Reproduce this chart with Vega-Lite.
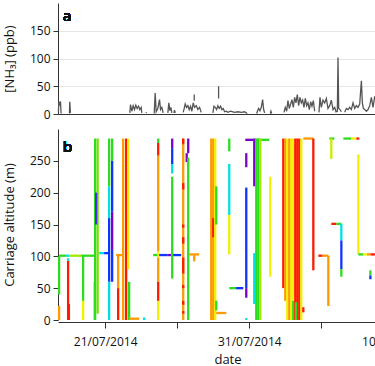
{
  "$schema": "https://vega.github.io/schema/vega-lite/v6.json",
  "padding": {"left": 3, "top": 3, "right": 0, "bottom": 0},
  "spacing": 9,
  "config": {
    "font": "Open Sans",
    "view": {"stroke": null},
    "axis": {"domainColor": "#333", "tickColor": "#333", "labelColor": "#111", "labelFontSize": 12, "titleFontSize": 13, "titleFontWeight": "normal", "titleColor": "#111", "grid": false}
  },
  "vconcat": [
    {
      "width": 339,
      "height": 111,
      "data": {"values": [
        {"t": "2014-07-17T18:10", "nh3": 3, "seg": 1}, {"t": "2014-07-17T18:50", "nh3": 22, "seg": 1}, {"t": "2014-07-17T20:25", "nh3": 15, "seg": 1}, {"t": "2014-07-17T21:35", "nh3": 23, "seg": 1}, {"t": "2014-07-17T22:40", "nh3": 1, "seg": 1},
        {"t": "2014-07-18T12:35", "nh3": 1, "seg": 2}, {"t": "2014-07-18T13:05", "nh3": 22, "seg": 2}, {"t": "2014-07-18T14:15", "nh3": 2, "seg": 2},
        {"t": "2014-07-22T17:05", "nh3": 2, "seg": 3}, {"t": "2014-07-22T18:15", "nh3": 17, "seg": 3}, {"t": "2014-07-22T20:25", "nh3": 5, "seg": 3}, {"t": "2014-07-22T22:40", "nh3": 15, "seg": 3}, {"t": "2014-07-23T00:55", "nh3": 8, "seg": 3}, {"t": "2014-07-23T03:05", "nh3": 16, "seg": 3}, {"t": "2014-07-23T05:20", "nh3": 10, "seg": 3}, {"t": "2014-07-23T07:35", "nh3": 14, "seg": 3}, {"t": "2014-07-23T09:45", "nh3": 8, "seg": 3}, {"t": "2014-07-23T12:00", "nh3": 12, "seg": 3}, {"t": "2014-07-23T13:05", "nh3": 2, "seg": 3},
        {"t": "2014-07-23T19:45", "nh3": 2, "seg": 4}, {"t": "2014-07-23T20:55", "nh3": 3, "seg": 4},
        {"t": "2014-07-24T09:40", "nh3": 1, "seg": 5}, {"t": "2014-07-24T11:20", "nh3": 38, "seg": 5}, {"t": "2014-07-24T13:00", "nh3": 4, "seg": 5}, {"t": "2014-07-24T15:45", "nh3": 10, "seg": 5}, {"t": "2014-07-24T18:35", "nh3": 26, "seg": 5}, {"t": "2014-07-24T20:15", "nh3": 8, "seg": 5}, {"t": "2014-07-24T22:25", "nh3": 12, "seg": 5}, {"t": "2014-07-25T00:40", "nh3": 2, "seg": 5},
        {"t": "2014-07-25T08:25", "nh3": 2, "seg": 6}, {"t": "2014-07-25T10:05", "nh3": 20, "seg": 6}, {"t": "2014-07-25T11:45", "nh3": 6, "seg": 6}, {"t": "2014-07-25T13:25", "nh3": 12, "seg": 6}, {"t": "2014-07-25T15:05", "nh3": 2, "seg": 6},
        {"t": "2014-07-25T18:25", "nh3": 2, "seg": 7}, {"t": "2014-07-25T19:35", "nh3": 7, "seg": 7}, {"t": "2014-07-25T20:40", "nh3": 2, "seg": 7},
        {"t": "2014-07-26T10:00", "nh3": 3, "seg": 8}, {"t": "2014-07-26T11:40", "nh3": 10, "seg": 8}, {"t": "2014-07-26T13:20", "nh3": 18, "seg": 8}, {"t": "2014-07-26T15:35", "nh3": 12, "seg": 8}, {"t": "2014-07-26T17:45", "nh3": 15, "seg": 8}, {"t": "2014-07-26T20:00", "nh3": 8, "seg": 8}, {"t": "2014-07-26T22:15", "nh3": 14, "seg": 8}, {"t": "2014-07-27T00:25", "nh3": 5, "seg": 8}, {"t": "2014-07-27T02:40", "nh3": 20, "seg": 8}, {"t": "2014-07-27T04:55", "nh3": 12, "seg": 8}, {"t": "2014-07-27T07:40", "nh3": 15, "seg": 8}, {"t": "2014-07-27T10:25", "nh3": 8, "seg": 8}, {"t": "2014-07-27T13:15", "nh3": 12, "seg": 8}, {"t": "2014-07-27T16:00", "nh3": 3, "seg": 8},
        {"t": "2014-07-27T04:20", "nh3": 24, "seg": 9}, {"t": "2014-07-27T04:20", "nh3": 35, "seg": 9},
        {"t": "2014-07-28T11:25", "nh3": 2, "seg": 10}, {"t": "2014-07-28T13:05", "nh3": 14, "seg": 10}, {"t": "2014-07-28T15:20", "nh3": 12, "seg": 10}, {"t": "2014-07-28T17:35", "nh3": 8, "seg": 10}, {"t": "2014-07-28T19:45", "nh3": 15, "seg": 10}, {"t": "2014-07-28T22:00", "nh3": 10, "seg": 10}, {"t": "2014-07-29T00:15", "nh3": 14, "seg": 10}, {"t": "2014-07-29T02:25", "nh3": 8, "seg": 10}, {"t": "2014-07-29T04:40", "nh3": 10, "seg": 10}, {"t": "2014-07-29T06:55", "nh3": 4, "seg": 10}, {"t": "2014-07-29T09:40", "nh3": 5, "seg": 10}, {"t": "2014-07-29T12:25", "nh3": 3, "seg": 10}, {"t": "2014-07-29T16:55", "nh3": 5, "seg": 10}, {"t": "2014-07-29T20:45", "nh3": 4, "seg": 10}, {"t": "2014-07-29T23:35", "nh3": 3, "seg": 10}, {"t": "2014-07-30T05:05", "nh3": 4, "seg": 10}, {"t": "2014-07-30T10:40", "nh3": 3, "seg": 10}, {"t": "2014-07-30T16:15", "nh3": 4, "seg": 10}, {"t": "2014-07-30T20:40", "nh3": 1, "seg": 10},
        {"t": "2014-07-28T20:55", "nh3": 28, "seg": 11}, {"t": "2014-07-28T20:55", "nh3": 50, "seg": 11},
        {"t": "2014-07-31T12:15", "nh3": 1, "seg": 12}, {"t": "2014-07-31T13:55", "nh3": 6, "seg": 12}, {"t": "2014-07-31T15:35", "nh3": 10, "seg": 12}, {"t": "2014-07-31T17:45", "nh3": 6, "seg": 12}, {"t": "2014-07-31T20:00", "nh3": 12, "seg": 12}, {"t": "2014-07-31T22:15", "nh3": 26, "seg": 12}, {"t": "2014-07-31T23:55", "nh3": 8, "seg": 12}, {"t": "2014-08-01T01:35", "nh3": 2, "seg": 12},
        {"t": "2014-08-01T11:00", "nh3": 1, "seg": 13}, {"t": "2014-08-01T12:05", "nh3": 5, "seg": 13}, {"t": "2014-08-01T13:15", "nh3": 1, "seg": 13},
        {"t": "2014-08-02T09:45", "nh3": 3, "seg": 14}, {"t": "2014-08-02T12:00", "nh3": 12, "seg": 14}, {"t": "2014-08-02T14:15", "nh3": 5, "seg": 14}, {"t": "2014-08-02T16:25", "nh3": 24, "seg": 14}, {"t": "2014-08-02T18:40", "nh3": 10, "seg": 14}, {"t": "2014-08-02T20:55", "nh3": 18, "seg": 14}, {"t": "2014-08-02T23:05", "nh3": 26, "seg": 14}, {"t": "2014-08-03T01:20", "nh3": 12, "seg": 14}, {"t": "2014-08-03T03:35", "nh3": 30, "seg": 14}, {"t": "2014-08-03T05:45", "nh3": 20, "seg": 14}, {"t": "2014-08-03T08:00", "nh3": 35, "seg": 14}, {"t": "2014-08-03T10:15", "nh3": 15, "seg": 14}, {"t": "2014-08-03T12:25", "nh3": 30, "seg": 14}, {"t": "2014-08-03T14:40", "nh3": 20, "seg": 14}, {"t": "2014-08-03T16:55", "nh3": 25, "seg": 14}, {"t": "2014-08-03T19:05", "nh3": 12, "seg": 14}, {"t": "2014-08-03T21:20", "nh3": 28, "seg": 14}, {"t": "2014-08-03T23:35", "nh3": 15, "seg": 14}, {"t": "2014-08-04T01:45", "nh3": 20, "seg": 14}, {"t": "2014-08-04T04:00", "nh3": 8, "seg": 14}, {"t": "2014-08-04T06:15", "nh3": 22, "seg": 14}, {"t": "2014-08-04T08:25", "nh3": 14, "seg": 14}, {"t": "2014-08-04T10:40", "nh3": 24, "seg": 14}, {"t": "2014-08-04T12:55", "nh3": 5, "seg": 14},
        {"t": "2014-08-04T20:05", "nh3": 3, "seg": 15}, {"t": "2014-08-04T21:45", "nh3": 30, "seg": 15}, {"t": "2014-08-05T00:00", "nh3": 12, "seg": 15}, {"t": "2014-08-05T02:45", "nh3": 25, "seg": 15}, {"t": "2014-08-05T05:35", "nh3": 20, "seg": 15}, {"t": "2014-08-05T08:20", "nh3": 28, "seg": 15}, {"t": "2014-08-05T11:05", "nh3": 10, "seg": 15}, {"t": "2014-08-05T13:55", "nh3": 15, "seg": 15}, {"t": "2014-08-05T16:40", "nh3": 25, "seg": 15}, {"t": "2014-08-05T19:25", "nh3": 8, "seg": 15}, {"t": "2014-08-05T22:15", "nh3": 12, "seg": 15}, {"t": "2014-08-06T00:25", "nh3": 4, "seg": 15}, {"t": "2014-08-06T02:40", "nh3": 5, "seg": 15}, {"t": "2014-08-06T03:45", "nh3": 102, "seg": 15}, {"t": "2014-08-06T04:55", "nh3": 10, "seg": 15}, {"t": "2014-08-06T07:05", "nh3": 8, "seg": 15}, {"t": "2014-08-06T09:20", "nh3": 4, "seg": 15},
        {"t": "2014-08-06T14:55", "nh3": 3, "seg": 16}, {"t": "2014-08-06T17:40", "nh3": 10, "seg": 16}, {"t": "2014-08-06T20:25", "nh3": 8, "seg": 16}, {"t": "2014-08-06T23:15", "nh3": 12, "seg": 16}, {"t": "2014-08-07T02:00", "nh3": 8, "seg": 16}, {"t": "2014-08-07T04:45", "nh3": 20, "seg": 16}, {"t": "2014-08-07T07:35", "nh3": 10, "seg": 16}, {"t": "2014-08-07T10:20", "nh3": 15, "seg": 16}, {"t": "2014-08-07T13:05", "nh3": 12, "seg": 16}, {"t": "2014-08-07T15:55", "nh3": 18, "seg": 16}, {"t": "2014-08-07T18:40", "nh3": 60, "seg": 16}, {"t": "2014-08-07T20:20", "nh3": 20, "seg": 16}, {"t": "2014-08-07T22:00", "nh3": 10, "seg": 16}, {"t": "2014-08-08T00:15", "nh3": 8, "seg": 16}, {"t": "2014-08-08T03:00", "nh3": 5, "seg": 16}, {"t": "2014-08-08T05:45", "nh3": 8, "seg": 16}, {"t": "2014-08-08T08:35", "nh3": 15, "seg": 16}, {"t": "2014-08-08T11:20", "nh3": 30, "seg": 16}, {"t": "2014-08-08T14:05", "nh3": 12, "seg": 16}, {"t": "2014-08-08T16:55", "nh3": 32, "seg": 16}, {"t": "2014-08-08T19:40", "nh3": 20, "seg": 16}
      ]},
      "layer": [
        {
          "mark": {"type": "line", "color": "#555555", "strokeWidth": 1.3},
          "encoding": {
            "x": {"field": "t", "type": "temporal",
              "scale": {"domain": [{"year": 2014, "month": 7, "date": 17, "hours": 17, "minutes": 30}, {"year": 2014, "month": 8, "date": 10, "hours": 6}]},
              "axis": {"title": null, "labels": false, "ticks": false, "domain": true, "grid": false}},
            "y": {"field": "nh3", "type": "quantitative", "scale": {"domain": [0, 190]},
              "axis": {"title": "[NH₃] (ppb)", "values": [0, 50, 100, 150], "tickCount": 20, "grid": true, "gridColor": "#e6e6e6", "tickSize": 5, "labelPadding": 3, "labelOverlap": false, "minExtent": 38, "maxExtent": 38, "titlePadding": 4}},
            "detail": {"field": "seg", "type": "nominal"}
          }
        },
        {
          "mark": {"type": "text", "text": "a", "fontSize": 15, "fontWeight": "normal", "align": "left", "baseline": "middle", "color": "#111"},
          "encoding": {
            "x": {"datum": {"year": 2014, "month": 7, "date": 18, "hours": 2}, "type": "temporal"},
            "y": {"datum": 177, "type": "quantitative"}
          }
        }
      ]
    },
    {
      "width": 339,
      "height": 191,
      "data": {"values": [
        {"t": "2014-07-17T19:20", "t2": "2014-07-17T19:20", "alt": 0, "alt2": 22, "nh3": 20},
        {"t": "2014-07-17T19:20", "t2": "2014-07-17T19:20", "alt": 40, "alt2": 100, "nh3": 12},
        {"t": "2014-07-17T19:20", "t2": "2014-07-18T07:00", "alt": 101, "alt2": 101, "nh3": 12},
        {"t": "2014-07-18T07:00", "t2": "2014-07-18T12:00", "alt": 101, "alt2": 101, "nh3": 8},
        {"t": "2014-07-18T12:00", "t2": "2014-07-19T08:00", "alt": 101, "alt2": 101, "nh3": 14},
        {"t": "2014-07-19T08:00", "t2": "2014-07-20T05:40", "alt": 101, "alt2": 101, "nh3": 12},
        {"t": "2014-07-18T10:20", "t2": "2014-07-18T10:20", "alt": 0, "alt2": 93, "nh3": 25},
        {"t": "2014-07-18T10:20", "t2": "2014-07-18T10:20", "alt": 93, "alt2": 97, "nh3": 8},
        {"t": "2014-07-18T11:40", "t2": "2014-07-18T11:40", "alt": 0, "alt2": 25, "nh3": 25},
        {"t": "2014-07-19T11:20", "t2": "2014-07-19T11:20", "alt": 30, "alt2": 100, "nh3": 12},
        {"t": "2014-07-19T11:20", "t2": "2014-07-19T11:20", "alt": 0, "alt2": 30, "nh3": 16},
        {"t": "2014-07-20T05:40", "t2": "2014-07-20T05:40", "alt": 0, "alt2": 60, "nh3": 16},
        {"t": "2014-07-20T07:20", "t2": "2014-07-20T07:20", "alt": 0, "alt2": 285, "nh3": 12},
        {"t": "2014-07-20T11:30", "t2": "2014-07-20T11:30", "alt": 10, "alt2": 285, "nh3": 13},
        {"t": "2014-07-20T09:00", "t2": "2014-07-20T09:00", "alt": 150, "alt2": 200, "nh3": 4},
        {"t": "2014-07-20T14:00", "t2": "2014-07-20T22:20", "alt": 105, "alt2": 105, "nh3": 8},
        {"t": "2014-07-20T22:20", "t2": "2014-07-21T05:00", "alt": 105, "alt2": 105, "nh3": 5},
        {"t": "2014-07-21T06:40", "t2": "2014-07-21T06:40", "alt": 210, "alt2": 285, "nh3": 12},
        {"t": "2014-07-21T06:40", "t2": "2014-07-21T06:40", "alt": 160, "alt2": 210, "nh3": 8},
        {"t": "2014-07-21T06:40", "t2": "2014-07-21T06:40", "alt": 60, "alt2": 160, "nh3": 5},
        {"t": "2014-07-21T06:40", "t2": "2014-07-21T06:40", "alt": 0, "alt2": 60, "nh3": 8},
        {"t": "2014-07-21T11:40", "t2": "2014-07-21T11:40", "alt": 250, "alt2": 285, "nh3": 12},
        {"t": "2014-07-21T11:40", "t2": "2014-07-21T11:40", "alt": 170, "alt2": 250, "nh3": 5},
        {"t": "2014-07-21T11:40", "t2": "2014-07-21T11:40", "alt": 110, "alt2": 170, "nh3": 2},
        {"t": "2014-07-21T11:40", "t2": "2014-07-21T11:40", "alt": 60, "alt2": 110, "nh3": 5},
        {"t": "2014-07-21T18:20", "t2": "2014-07-22T06:00", "alt": 102, "alt2": 102, "nh3": 20},
        {"t": "2014-07-21T21:40", "t2": "2014-07-21T21:40", "alt": 50, "alt2": 102, "nh3": 20},
        {"t": "2014-07-21T21:40", "t2": "2014-07-21T21:40", "alt": 0, "alt2": 50, "nh3": 25},
        {"t": "2014-07-22T06:00", "t2": "2014-07-22T06:00", "alt": 0, "alt2": 285, "nh3": 20},
        {"t": "2014-07-22T11:00", "t2": "2014-07-22T11:00", "alt": 0, "alt2": 285, "nh3": 25},
        {"t": "2014-07-22T14:20", "t2": "2014-07-22T14:20", "alt": 80, "alt2": 285, "nh3": 16},
        {"t": "2014-07-22T16:00", "t2": "2014-07-22T16:00", "alt": 0, "alt2": 60, "nh3": 12},
        {"t": "2014-07-22T16:00", "t2": "2014-07-23T08:40", "alt": 2, "alt2": 2, "nh3": 20},
        {"t": "2014-07-23T17:00", "t2": "2014-07-23T17:00", "alt": 0, "alt2": 4, "nh3": 8},
        {"t": "2014-07-24T16:20", "t2": "2014-07-24T16:20", "alt": 278, "alt2": 285, "nh3": 12},
        {"t": "2014-07-24T16:20", "t2": "2014-07-24T16:20", "alt": 258, "alt2": 278, "nh3": 25},
        {"t": "2014-07-24T16:20", "t2": "2014-07-24T16:20", "alt": 108, "alt2": 258, "nh3": 20},
        {"t": "2014-07-24T16:20", "t2": "2014-07-24T16:20", "alt": 98, "alt2": 108, "nh3": 16},
        {"t": "2014-07-24T16:20", "t2": "2014-07-24T16:20", "alt": 60, "alt2": 98, "nh3": 20},
        {"t": "2014-07-24T16:20", "t2": "2014-07-24T16:20", "alt": 30, "alt2": 60, "nh3": 25},
        {"t": "2014-07-24T16:20", "t2": "2014-07-24T16:20", "alt": 0, "alt2": 30, "nh3": 16},
        {"t": "2014-07-24T08:00", "t2": "2014-07-24T14:40", "alt": 102, "alt2": 102, "nh3": 12},
        {"t": "2014-07-24T18:00", "t2": "2014-07-25T07:20", "alt": 102, "alt2": 102, "nh3": 5},
        {"t": "2014-07-25T07:20", "t2": "2014-07-25T14:00", "alt": 102, "alt2": 102, "nh3": 2},
        {"t": "2014-07-25T14:00", "t2": "2014-07-26T06:40", "alt": 102, "alt2": 102, "nh3": 5},
        {"t": "2014-07-25T15:40", "t2": "2014-07-25T15:40", "alt": 270, "alt2": 285, "nh3": 2},
        {"t": "2014-07-25T15:40", "t2": "2014-07-25T15:40", "alt": 245, "alt2": 270, "nh3": 5},
        {"t": "2014-07-25T15:40", "t2": "2014-07-25T15:40", "alt": 230, "alt2": 245, "nh3": 8},
        {"t": "2014-07-25T15:40", "t2": "2014-07-25T15:40", "alt": 65, "alt2": 225, "nh3": 12},
        {"t": "2014-07-26T10:00", "t2": "2014-07-26T10:00", "alt": 0, "alt2": 285, "nh3": 20},
        {"t": "2014-07-26T10:00", "t2": "2014-07-26T10:00", "alt": 276, "alt2": 285, "nh3": 25},
        {"t": "2014-07-26T10:00", "t2": "2014-07-26T10:00", "alt": 205, "alt2": 215, "nh3": 25},
        {"t": "2014-07-26T10:00", "t2": "2014-07-26T10:00", "alt": 145, "alt2": 150, "nh3": 25},
        {"t": "2014-07-26T10:00", "t2": "2014-07-26T10:00", "alt": 120, "alt2": 130, "nh3": 25},
        {"t": "2014-07-26T10:00", "t2": "2014-07-26T10:00", "alt": 73, "alt2": 98, "nh3": 25},
        {"t": "2014-07-26T10:00", "t2": "2014-07-26T10:00", "alt": 50, "alt2": 55, "nh3": 25},
        {"t": "2014-07-26T10:00", "t2": "2014-07-26T10:00", "alt": 24, "alt2": 30, "nh3": 25},
        {"t": "2014-07-26T10:00", "t2": "2014-07-26T10:00", "alt": 10, "alt2": 14, "nh3": 25},
        {"t": "2014-07-26T15:50", "t2": "2014-07-26T15:50", "alt": 248, "alt2": 262, "nh3": 2},
        {"t": "2014-07-26T18:20", "t2": "2014-07-26T18:20", "alt": 262, "alt2": 285, "nh3": 2},
        {"t": "2014-07-26T18:20", "t2": "2014-07-26T18:20", "alt": 0, "alt2": 255, "nh3": 12},
        {"t": "2014-07-26T20:00", "t2": "2014-07-27T12:40", "alt": 103, "alt2": 103, "nh3": 20},
        {"t": "2014-07-27T04:20", "t2": "2014-07-27T04:20", "alt": 92, "alt2": 103, "nh3": 20},
        {"t": "2014-07-28T08:40", "t2": "2014-07-28T08:40", "alt": 0, "alt2": 285, "nh3": 20},
        {"t": "2014-07-28T12:00", "t2": "2014-07-28T12:00", "alt": 0, "alt2": 285, "nh3": 20},
        {"t": "2014-07-28T12:00", "t2": "2014-07-28T12:00", "alt": 130, "alt2": 160, "nh3": 25},
        {"t": "2014-07-28T15:20", "t2": "2014-07-28T15:20", "alt": 0, "alt2": 285, "nh3": 16},
        {"t": "2014-07-28T17:00", "t2": "2014-07-28T17:00", "alt": 150, "alt2": 210, "nh3": 12},
        {"t": "2014-07-28T17:00", "t2": "2014-07-28T17:00", "alt": 15, "alt2": 30, "nh3": 12},
        {"t": "2014-07-28T17:00", "t2": "2014-07-29T09:40", "alt": 11, "alt2": 11, "nh3": 20},
        {"t": "2014-07-29T14:40", "t2": "2014-07-29T14:40", "alt": 265, "alt2": 285, "nh3": 12},
        {"t": "2014-07-29T14:40", "t2": "2014-07-29T14:40", "alt": 165, "alt2": 245, "nh3": 8},
        {"t": "2014-07-29T14:40", "t2": "2014-07-29T14:40", "alt": 103, "alt2": 165, "nh3": 16},
        {"t": "2014-07-29T14:40", "t2": "2014-07-30T02:00", "alt": 50, "alt2": 50, "nh3": 12},
        {"t": "2014-07-30T02:00", "t2": "2014-07-30T14:00", "alt": 50, "alt2": 50, "nh3": 5},
        {"t": "2014-07-30T19:00", "t2": "2014-07-30T19:00", "alt": 240, "alt2": 262, "nh3": 2},
        {"t": "2014-07-30T19:00", "t2": "2014-07-30T19:00", "alt": 50, "alt2": 208, "nh3": 5},
        {"t": "2014-07-30T19:00", "t2": "2014-07-30T19:00", "alt": 35, "alt2": 50, "nh3": 2},
        {"t": "2014-07-30T19:00", "t2": "2014-07-30T19:00", "alt": 0, "alt2": 3, "nh3": 8},
        {"t": "2014-07-30T17:20", "t2": "2014-07-31T06:40", "alt": 283, "alt2": 283, "nh3": 2},
        {"t": "2014-07-31T06:40", "t2": "2014-08-01T09:20", "alt": 283, "alt2": 283, "nh3": 12},
        {"t": "2014-07-31T08:20", "t2": "2014-07-31T08:20", "alt": 210, "alt2": 285, "nh3": 2},
        {"t": "2014-07-31T08:20", "t2": "2014-07-31T08:20", "alt": 25, "alt2": 105, "nh3": 8},
        {"t": "2014-07-31T11:40", "t2": "2014-07-31T11:40", "alt": 0, "alt2": 285, "nh3": 12},
        {"t": "2014-07-31T15:00", "t2": "2014-07-31T15:00", "alt": 0, "alt2": 285, "nh3": 12},
        {"t": "2014-07-31T18:20", "t2": "2014-07-31T18:20", "alt": 0, "alt2": 285, "nh3": 14},
        {"t": "2014-08-01T11:00", "t2": "2014-08-01T11:00", "alt": 68, "alt2": 225, "nh3": 16},
        {"t": "2014-08-02T08:40", "t2": "2014-08-02T08:40", "alt": 50, "alt2": 285, "nh3": 25},
        {"t": "2014-08-02T12:00", "t2": "2014-08-02T12:00", "alt": 30, "alt2": 285, "nh3": 20},
        {"t": "2014-08-02T15:20", "t2": "2014-08-02T15:20", "alt": 0, "alt2": 285, "nh3": 16},
        {"t": "2014-08-02T18:40", "t2": "2014-08-02T18:40", "alt": 0, "alt2": 285, "nh3": 20},
        {"t": "2014-08-02T22:00", "t2": "2014-08-02T22:00", "alt": 0, "alt2": 285, "nh3": 16},
        {"t": "2014-08-03T01:20", "t2": "2014-08-03T01:20", "alt": 0, "alt2": 285, "nh3": 16},
        {"t": "2014-08-03T01:20", "t2": "2014-08-03T01:20", "alt": 0, "alt2": 30, "nh3": 12},
        {"t": "2014-08-03T04:40", "t2": "2014-08-03T04:40", "alt": 0, "alt2": 285, "nh3": 25},
        {"t": "2014-08-03T08:00", "t2": "2014-08-03T08:00", "alt": 0, "alt2": 285, "nh3": 25},
        {"t": "2014-08-03T11:20", "t2": "2014-08-03T11:20", "alt": 0, "alt2": 285, "nh3": 25},
        {"t": "2014-08-03T06:00", "t2": "2014-08-03T06:00", "alt": 0, "alt2": 28, "nh3": 12},
        {"t": "2014-08-03T14:40", "t2": "2014-08-03T14:40", "alt": 0, "alt2": 285, "nh3": 16},
        {"t": "2014-08-03T18:00", "t2": "2014-08-03T18:00", "alt": 12, "alt2": 20, "nh3": 25},
        {"t": "2014-08-03T18:00", "t2": "2014-08-04T10:40", "alt": 285, "alt2": 285, "nh3": 20},
        {"t": "2014-08-04T10:40", "t2": "2014-08-04T10:40", "alt": 78, "alt2": 285, "nh3": 25},
        {"t": "2014-08-04T19:00", "t2": "2014-08-05T02:00", "alt": 101, "alt2": 101, "nh3": 25},
        {"t": "2014-08-05T02:00", "t2": "2014-08-05T11:40", "alt": 101, "alt2": 101, "nh3": 20},
        {"t": "2014-08-05T11:40", "t2": "2014-08-05T11:40", "alt": 22, "alt2": 101, "nh3": 20},
        {"t": "2014-08-05T13:20", "t2": "2014-08-05T21:40", "alt": 285, "alt2": 285, "nh3": 12},
        {"t": "2014-08-05T16:40", "t2": "2014-08-05T16:40", "alt": 253, "alt2": 285, "nh3": 15},
        {"t": "2014-08-05T16:40", "t2": "2014-08-06T01:00", "alt": 151, "alt2": 151, "nh3": 25},
        {"t": "2014-08-06T01:00", "t2": "2014-08-06T09:20", "alt": 151, "alt2": 151, "nh3": 12},
        {"t": "2014-08-06T09:20", "t2": "2014-08-06T09:20", "alt": 125, "alt2": 151, "nh3": 8},
        {"t": "2014-08-06T09:20", "t2": "2014-08-06T09:20", "alt": 80, "alt2": 125, "nh3": 5},
        {"t": "2014-08-06T09:20", "t2": "2014-08-06T09:20", "alt": 68, "alt2": 80, "nh3": 12},
        {"t": "2014-08-06T12:40", "t2": "2014-08-07T02:00", "alt": 285, "alt2": 285, "nh3": 12},
        {"t": "2014-08-07T02:00", "t2": "2014-08-07T10:20", "alt": 285, "alt2": 285, "nh3": 16},
        {"t": "2014-08-07T10:20", "t2": "2014-08-07T15:20", "alt": 285, "alt2": 285, "nh3": 25},
        {"t": "2014-08-07T13:40", "t2": "2014-08-07T13:40", "alt": 103, "alt2": 260, "nh3": 16},
        {"t": "2014-08-07T13:40", "t2": "2014-08-07T22:00", "alt": 103, "alt2": 103, "nh3": 12},
        {"t": "2014-08-07T22:00", "t2": "2014-08-08T04:00", "alt": 103, "alt2": 103, "nh3": 16},
        {"t": "2014-08-08T04:00", "t2": "2014-08-08T10:00", "alt": 103, "alt2": 103, "nh3": 20},
        {"t": "2014-08-08T10:00", "t2": "2014-08-08T22:00", "alt": 103, "alt2": 103, "nh3": 25},
        {"t": "2014-08-08T09:40", "t2": "2014-08-08T09:40", "alt": 70, "alt2": 78, "nh3": 12},
        {"t": "2014-08-08T09:40", "t2": "2014-08-08T09:40", "alt": 64, "alt2": 70, "nh3": 5}
      ]},
      "layer": [
        {
          "mark": {"type": "rule", "strokeWidth": 2.3},
          "encoding": {
            "x": {"field": "t", "type": "temporal",
              "scale": {"domain": [{"year": 2014, "month": 7, "date": 17, "hours": 17, "minutes": 30}, {"year": 2014, "month": 8, "date": 10, "hours": 6}]},
              "axis": {"title": "date", "values": [{"year": 2014, "month": 7, "date": 21}, {"year": 2014, "month": 7, "date": 26}, {"year": 2014, "month": 7, "date": 31}, {"year": 2014, "month": 8, "date": 5}, {"year": 2014, "month": 8, "date": 10}],
                "format": "%d/%m/%Y", "labelExpr": "indexof(['21/07/2014','31/07/2014','10/08/2014'], datum.label) >= 0 ? datum.label : ''",
                "tickCount": 20, "tickSize": 6, "labelPadding": 8, "offset": 2, "titlePadding": 6, "labelFlush": false, "labelOverlap": false, "labelBound": false, "grid": false}},
            "x2": {"field": "t2"},
            "y": {"field": "alt", "type": "quantitative", "scale": {"domain": [0, 290]},
              "axis": {"title": "Carriage altitude (m)", "values": [0, 50, 100, 150, 200, 250], "tickCount": 20, "tickSize": 5, "labelPadding": 3, "labelOverlap": false, "minExtent": 38, "maxExtent": 38, "titlePadding": 4}},
            "y2": {"field": "alt2"},
            "color": {"field": "nh3", "type": "quantitative", "legend": null,
              "scale": {"type": "linear", "domain": [2, 5, 8, 12, 16, 20, 25], "range": ["#7a00cc", "#1034ff", "#00e0e0", "#2ddc1e", "#f0f000", "#ff9a00", "#ff1a00"]}}
          }
        },
        {
          "mark": {"type": "text", "text": "b", "fontSize": 15, "fontWeight": "normal", "align": "left", "baseline": "middle", "color": "#111"},
          "encoding": {
            "x": {"datum": {"year": 2014, "month": 7, "date": 18, "hours": 2}, "type": "temporal"},
            "y": {"datum": 272, "type": "quantitative"}
          }
        }
      ]
    }
  ]
}
